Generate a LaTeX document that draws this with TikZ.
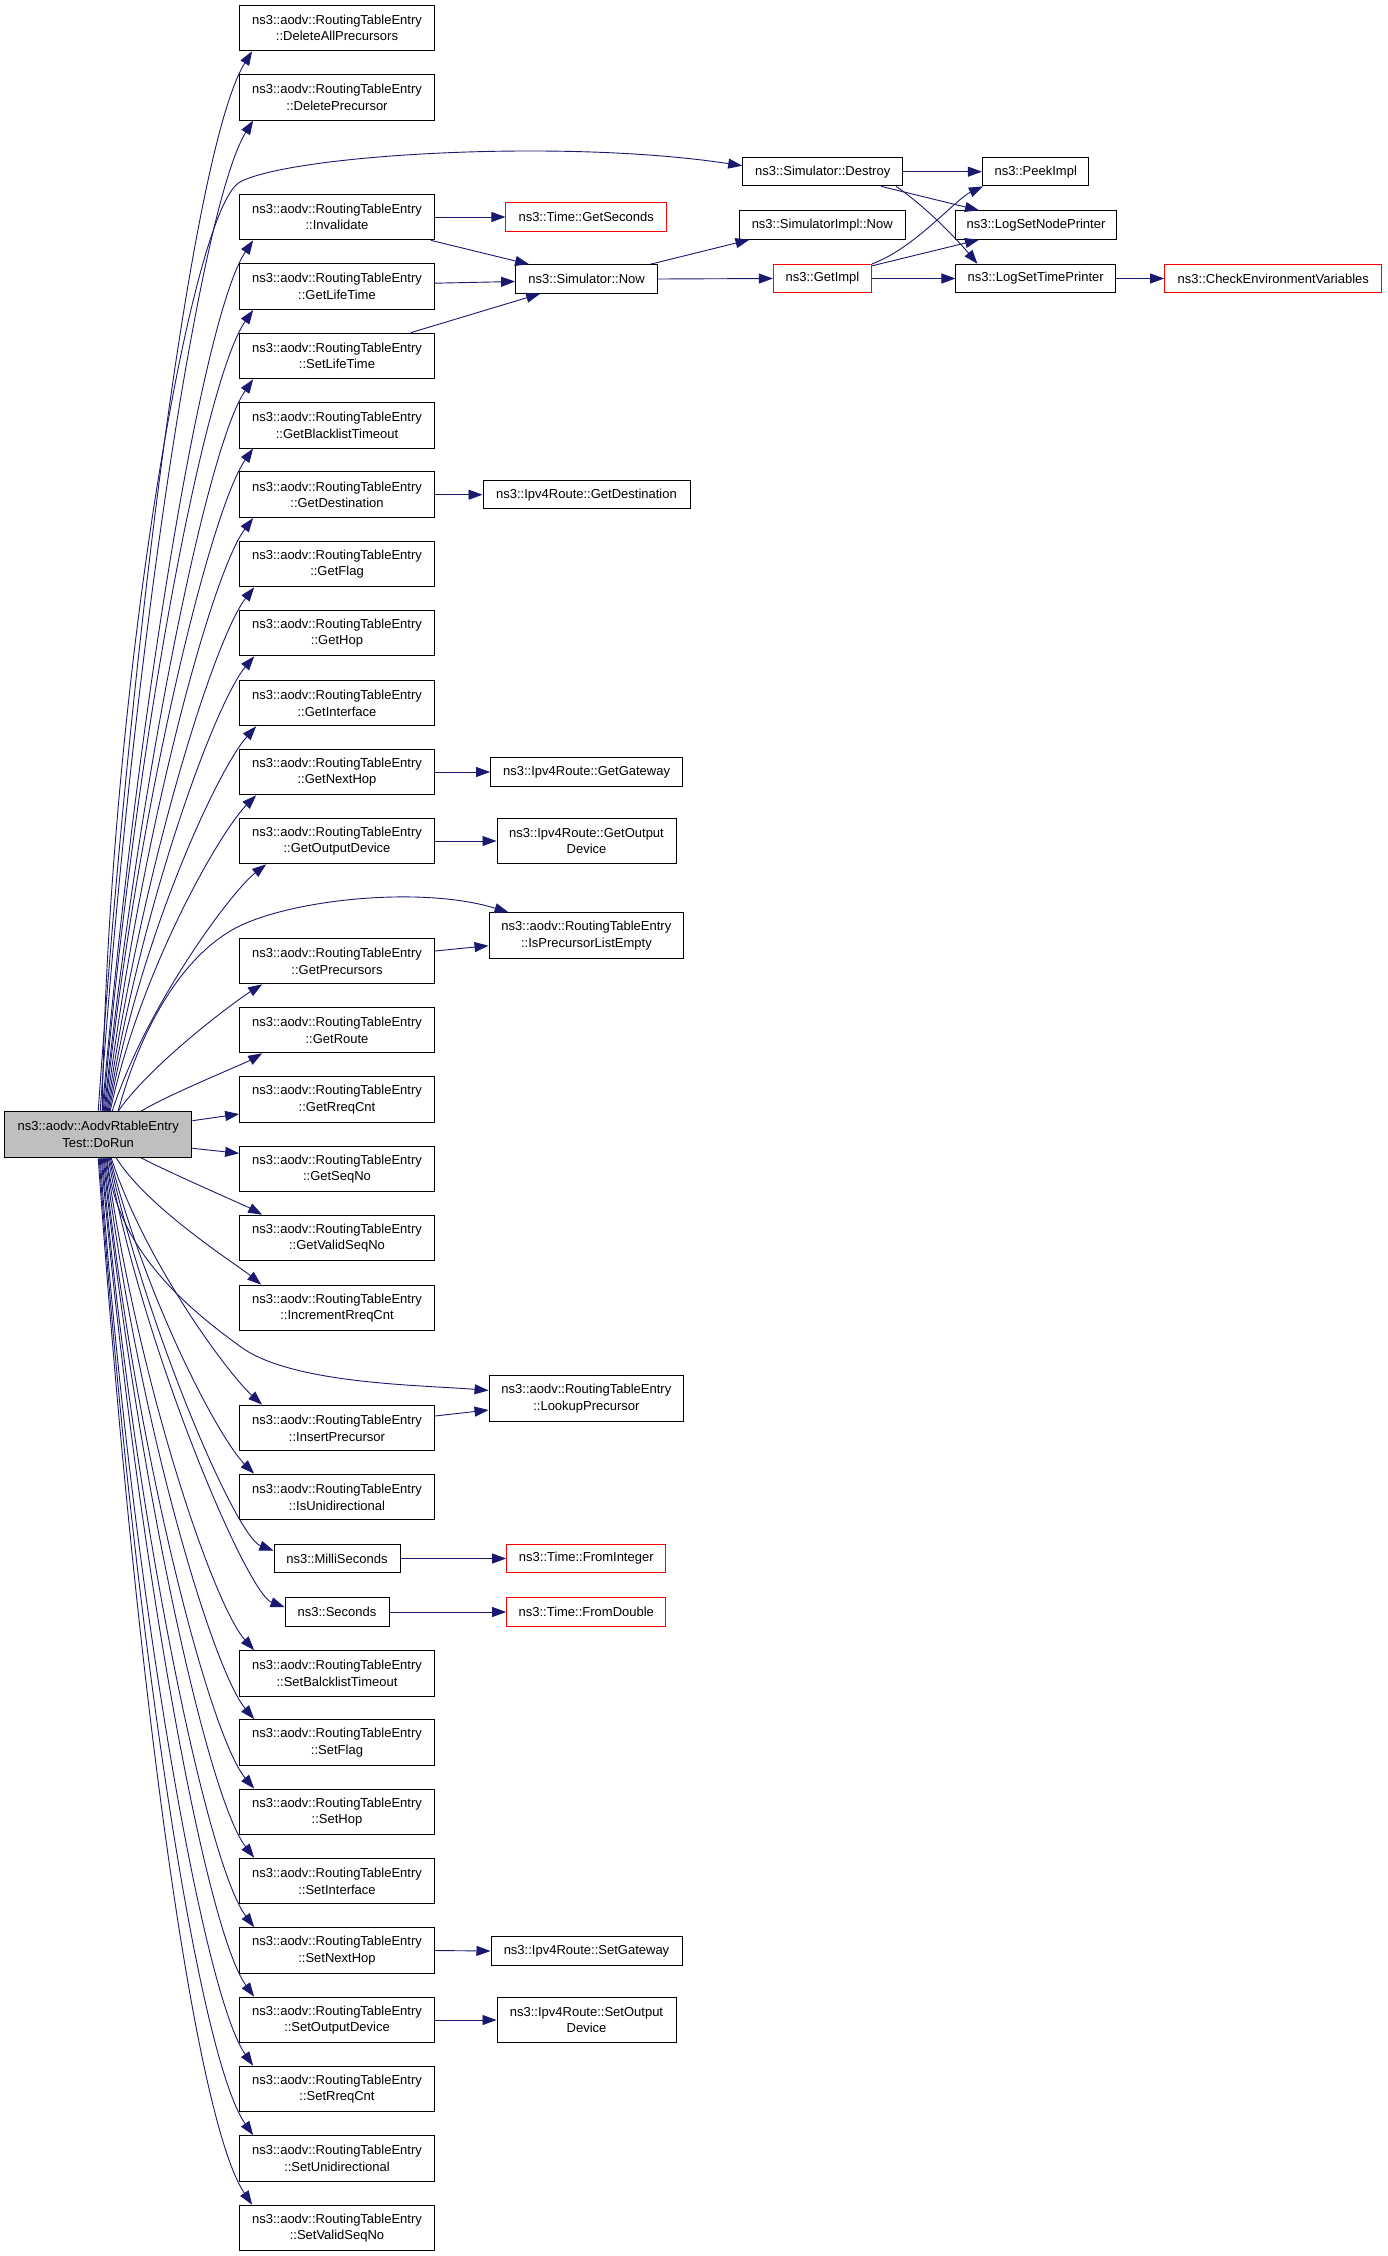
\documentclass[tikz,border=0pt]{standalone}
\usepackage{fontspec}
\setmainfont{Liberation Sans}
\usetikzlibrary{arrows.meta}
\definecolor{edgeblue}{HTML}{191970}
\definecolor{rootgray}{HTML}{BFBFBF}
\tikzset{
  fn/.style={draw=black, line width=1pt, inner sep=0pt, align=center,
    font=\fontsize{13}{16.7}\selectfont, minimum width=194.7pt, minimum height=45.7pt},
  fnone/.style={fn, minimum height=28.4pt},
  ext/.style={draw=red},
  root/.style={fn, fill=rootgray, minimum width=187.5pt},
  call/.style={draw=edgeblue, line width=0.9pt, -{Triangle[length=14pt,width=10pt]}}
}

\begin{document}
\begin{tikzpicture}[x=1pt,y=1pt]
        \fill[white] (0,0) rectangle (1387,-2256);
        \useasboundingbox (0,0) rectangle (1387,-2256);
        % caller
        \node[root] (DoRun) at (98.2,-1134.5) {ns3::aodv::AodvRtableEntry\\Test::DoRun};
        % callees, left column
        \node[fn] (DAP) at (337,-27.9) {ns3::aodv::RoutingTableEntry\\::DeleteAllPrecursors};
        \node[fn] (DP) at (337,-97.2) {ns3::aodv::RoutingTableEntry\\::DeletePrecursor};
        \node[fn] (Inv) at (337,-217) {ns3::aodv::RoutingTableEntry\\::Invalidate};
        \node[fn] (GLT) at (337,-286.7) {ns3::aodv::RoutingTableEntry\\::GetLifeTime};
        \node[fn] (SLT) at (337,-356) {ns3::aodv::RoutingTableEntry\\::SetLifeTime};
        \node[fn] (GBT) at (337,-425.2) {ns3::aodv::RoutingTableEntry\\::GetBlacklistTimeout};
        \node[fn] (GD) at (337,-494.7) {ns3::aodv::RoutingTableEntry\\::GetDestination};
        \node[fn] (GF) at (337,-564) {ns3::aodv::RoutingTableEntry\\::GetFlag};
        \node[fn] (GH) at (337,-633) {ns3::aodv::RoutingTableEntry\\::GetHop};
        \node[fn] (GI) at (337,-703) {ns3::aodv::RoutingTableEntry\\::GetInterface};
        \node[fn] (GNH) at (337,-772) {ns3::aodv::RoutingTableEntry\\::GetNextHop};
        \node[fn] (GOD) at (337,-841) {ns3::aodv::RoutingTableEntry\\::GetOutputDevice};
        \node[fn] (GP) at (337,-961) {ns3::aodv::RoutingTableEntry\\::GetPrecursors};
        \node[fn] (GR) at (337,-1030) {ns3::aodv::RoutingTableEntry\\::GetRoute};
        \node[fn] (GRC) at (337,-1099.5) {ns3::aodv::RoutingTableEntry\\::GetRreqCnt};
        \node[fn] (GSN) at (337,-1169) {ns3::aodv::RoutingTableEntry\\::GetSeqNo};
        \node[fn] (GVS) at (337,-1238) {ns3::aodv::RoutingTableEntry\\::GetValidSeqNo};
        \node[fn] (IRC) at (337,-1308) {ns3::aodv::RoutingTableEntry\\::IncrementRreqCnt};
        \node[fn] (IP) at (337,-1428) {ns3::aodv::RoutingTableEntry\\::InsertPrecursor};
        \node[fn] (IU) at (337,-1497) {ns3::aodv::RoutingTableEntry\\::IsUnidirectional};
        \node[fnone,minimum width=126pt] (MS) at (337,-1558.5) {ns3::MilliSeconds};
        \node[fnone,minimum width=104pt] (Sec) at (337,-1612) {ns3::Seconds};
        \node[fn] (SBT) at (337,-1673.5) {ns3::aodv::RoutingTableEntry\\::SetBalcklistTimeout};
        \node[fn] (SF) at (337,-1742.5) {ns3::aodv::RoutingTableEntry\\::SetFlag};
        \node[fn] (SH) at (337,-1812) {ns3::aodv::RoutingTableEntry\\::SetHop};
        \node[fn] (SI) at (337,-1881) {ns3::aodv::RoutingTableEntry\\::SetInterface};
        \node[fn] (SNH) at (337,-1950.5) {ns3::aodv::RoutingTableEntry\\::SetNextHop};
        \node[fn] (SOD) at (337,-2020) {ns3::aodv::RoutingTableEntry\\::SetOutputDevice};
        \node[fn] (SRC) at (337,-2089) {ns3::aodv::RoutingTableEntry\\::SetRreqCnt};
        \node[fn] (SU) at (337,-2158.5) {ns3::aodv::RoutingTableEntry\\::SetUnidirectional};
        \node[fn] (SVS) at (337,-2228) {ns3::aodv::RoutingTableEntry\\::SetValidSeqNo};
        % second column
        \node[fnone,ext,minimum width=160.5pt] (TGS) at (586.2,-217) {ns3::Time::GetSeconds};
        \node[fnone,minimum width=142pt] (SimNow) at (586.6,-279) {ns3::Simulator::Now};
        \node[fnone,minimum width=207pt] (RGD) at (586.5,-494.7) {ns3::Ipv4Route::GetDestination};
        \node[fnone,minimum width=192pt] (RGG) at (586.6,-772) {ns3::Ipv4Route::GetGateway};
        \node[fn,minimum width=179pt] (RGOD) at (586.5,-841) {ns3::Ipv4Route::GetOutput\\Device};
        \node[fn] (IPLE) at (586.4,-935.7) {ns3::aodv::RoutingTableEntry\\::IsPrecursorListEmpty};
        \node[fn] (LP) at (586.4,-1398.4) {ns3::aodv::RoutingTableEntry\\::LookupPrecursor};
        \node[fnone,ext,minimum width=159.3pt] (TFI) at (586.3,-1558.5) {ns3::Time::FromInteger};
        \node[fnone,ext,minimum width=159.3pt] (TFD) at (586.3,-1612) {ns3::Time::FromDouble};
        \node[fnone,minimum width=191pt] (RSG) at (586.5,-1951) {ns3::Ipv4Route::SetGateway};
        \node[fn,minimum width=179pt] (RSOD) at (586.5,-2020) {ns3::Ipv4Route::SetOutput\\Device};
        % simulator part
        \node[fnone,minimum width=160pt] (Destroy) at (822.7,-171.7) {ns3::Simulator::Destroy};
        \node[fnone,minimum width=166.4pt] (ImplNow) at (822.2,-225) {ns3::SimulatorImpl::Now};
        \node[fnone,ext,minimum width=98.3pt] (GetImpl) at (822.5,-278.5) {ns3::GetImpl};
        \node[fnone,minimum width=106.5pt] (Peek) at (1035.7,-171.7) {ns3::PeekImpl};
        \node[fnone,minimum width=161pt] (LSNP) at (1036,-225) {ns3::LogSetNodePrinter};
        \node[fnone,minimum width=159.5pt] (LSTP) at (1035.7,-278.5) {ns3::LogSetTimePrinter};
        \node[fnone,ext,minimum width=217.3pt] (CEV) at (1273.3,-278.5) {ns3::CheckEnvironmentVariables};

        % calls going up
        \draw[call] (DoRun.north) .. controls +(86:480pt) and +(238:110pt) .. ([xshift=13pt]DAP.south west);
        \draw[call] ([xshift=2pt]DoRun.north) .. controls +(86:450pt) and +(238:100pt) .. ([xshift=14pt]DP.south west);
        \draw[call] ([xshift=4pt]DoRun.north) .. controls +(85:400pt) and +(236:90pt) .. ([xshift=14pt]Inv.south west);
        \draw[call] ([xshift=5pt]DoRun.north) .. controls +(85:370pt) and +(235:85pt) .. ([xshift=14pt]GLT.south west);
        \draw[call] ([xshift=6pt]DoRun.north) .. controls +(84:330pt) and +(235:80pt) .. ([xshift=14pt]SLT.south west);
        \draw[call] ([xshift=7pt]DoRun.north) .. controls +(84:300pt) and +(235:75pt) .. ([xshift=14pt]GBT.south west);
        \draw[call] ([xshift=8pt]DoRun.north) .. controls +(83:270pt) and +(233:70pt) .. ([xshift=14pt]GD.south west);
        \draw[call] ([xshift=9pt]DoRun.north) .. controls +(82:240pt) and +(232:65pt) .. ([xshift=15pt]GF.south west);
        \draw[call] ([xshift=10pt]DoRun.north) .. controls +(81:210pt) and +(230:60pt) .. ([xshift=15pt]GH.south west);
        \draw[call] ([xshift=11pt]DoRun.north) .. controls +(80:180pt) and +(228:55pt) .. ([xshift=17pt]GI.south west);
        \draw[call] ([xshift=12pt]DoRun.north) .. controls +(78:145pt) and +(225:50pt) .. ([xshift=17pt]GNH.south west);
        \draw[call] ([xshift=14pt]DoRun.north) .. controls +(72:110pt) and +(218:45pt) .. ([xshift=27pt]GOD.south west);
        \draw[call] ([xshift=20pt]DoRun.north) .. controls +(55:60pt) and +(212:30pt) .. ([xshift=23pt]GP.south west);
        \draw[call] ([xshift=43pt]DoRun.north) .. controls +(32:30pt) and +(210:20pt) .. ([xshift=23pt]GR.south west);
        \draw[call] ([xshift=4pt]DoRun.north) .. controls (108,-700) and (190,-209) .. (240,-182)
            .. controls (290,-155) and (560,-138) .. ([yshift=6pt]Destroy.west);
        \draw[call] ([xshift=20pt]DoRun.north) .. controls (140,-1030) and (180,-960) .. (232,-930)
            .. controls (284,-900) and (420,-885) .. ([xshift=20pt]IPLE.north west);
        % calls to the side
        \draw[call] ([yshift=13.8pt]DoRun.east) -- ([yshift=-14.5pt]GRC.west);
        \draw[call] ([yshift=-13.8pt]DoRun.east) -- ([yshift=15.7pt]GSN.west);
        % calls going down
        \draw[call] ([xshift=43pt]DoRun.south) .. controls +(-28:30pt) and +(152:20pt) .. ([xshift=23pt]GVS.north west);
        \draw[call] ([xshift=18pt]DoRun.south) .. controls +(-58:60pt) and +(140:30pt) .. ([xshift=22pt]IRC.north west);
        \draw[call] ([xshift=9pt]DoRun.south) .. controls (115,-1250) and (190,-1310) .. (241,-1347)
            .. controls (292,-1384) and (420,-1385) .. ([yshift=8pt]LP.west);
        \draw[call] ([xshift=13pt]DoRun.south) .. controls +(-72:110pt) and +(138:45pt) .. ([xshift=23pt]IP.north west);
        \draw[call] ([xshift=12pt]DoRun.south) .. controls +(-76:145pt) and +(135:50pt) .. ([xshift=15pt]IU.north west);
        \draw[call] ([xshift=11pt]DoRun.south) .. controls +(-78:170pt) and +(160:40pt) .. ([yshift=8pt]MS.west);
        \draw[call] ([xshift=10pt]DoRun.south) .. controls +(-80:190pt) and +(160:40pt) .. ([yshift=5pt]Sec.west);
        \draw[call] ([xshift=8pt]DoRun.south) .. controls +(-82:230pt) and +(132:60pt) .. ([xshift=15pt]SBT.north west);
        \draw[call] ([xshift=7pt]DoRun.south) .. controls +(-83:260pt) and +(130:65pt) .. ([xshift=15pt]SF.north west);
        \draw[call] ([xshift=6pt]DoRun.south) .. controls +(-84:290pt) and +(130:70pt) .. ([xshift=15pt]SH.north west);
        \draw[call] ([xshift=5pt]DoRun.south) .. controls +(-84:320pt) and +(128:75pt) .. ([xshift=15pt]SI.north west);
        \draw[call] ([xshift=4pt]DoRun.south) .. controls +(-85:350pt) and +(127:80pt) .. ([xshift=15pt]SNH.north west);
        \draw[call] ([xshift=3pt]DoRun.south) .. controls +(-85:380pt) and +(126:85pt) .. ([xshift=15pt]SOD.north west);
        \draw[call] ([xshift=2pt]DoRun.south) .. controls +(-86:410pt) and +(125:90pt) .. ([xshift=14pt]SRC.north west);
        \draw[call] ([xshift=1pt]DoRun.south) .. controls +(-86:440pt) and +(125:100pt) .. ([xshift=14pt]SU.north west);
        \draw[call] (DoRun.south) .. controls +(-86:470pt) and +(124:110pt) .. ([xshift=13pt]SVS.north west);

        % second level
        \draw[call] (Inv.east) -- (TGS.west);
        \draw[call] ([xshift=-4pt]Inv.south east) -- ([xshift=14pt]SimNow.north west);
        \draw[call] ([yshift=3.5pt]GLT.east) -- ([yshift=-2.5pt]SimNow.west);
        \draw[call] ([xshift=-24pt]SLT.north east) -- ([xshift=25pt]SimNow.south west);
        \draw[call] (GD.east) -- (RGD.west);
        \draw[call] (GNH.east) -- (RGG.west);
        \draw[call] (GOD.east) -- (RGOD.west);
        \draw[call] ([yshift=10pt]GP.east) -- ([yshift=-10pt]IPLE.west);
        \draw[call] ([yshift=12pt]IP.east) -- ([yshift=-11.6pt]LP.west);
        \draw[call] (MS.east) -- (TFI.west);
        \draw[call] (Sec.east) -- (TFD.west);
        \draw[call] (SNH.east) -- (RSG.west);
        \draw[call] (SOD.east) -- (RSOD.west);
        % simulator calls
        \draw[call] ([xshift=-8pt]SimNow.north east) -- ([xshift=11pt]ImplNow.south west);
        \draw[call] (SimNow.east) -- (GetImpl.west);
        \draw[call] (Destroy.east) -- (Peek.west);
        \draw[call] ([xshift=-22pt]Destroy.south east) -- ([xshift=24pt]LSNP.north west);
        \draw[call] ([xshift=-7pt]Destroy.south east) .. controls +(-35:40pt) and +(130:30pt) .. ([xshift=22pt]LSTP.north west);
        \draw[call] (GetImpl.north east) .. controls +(20:45pt) and +(205:30pt) .. ([xshift=1pt]Peek.south west);
        \draw[call] ([yshift=-2pt]GetImpl.north east) -- ([xshift=24pt]LSNP.south west);
        \draw[call] (GetImpl.east) -- (LSTP.west);
        \draw[call] (LSTP.east) -- (CEV.west);
\end{tikzpicture}
\end{document}
